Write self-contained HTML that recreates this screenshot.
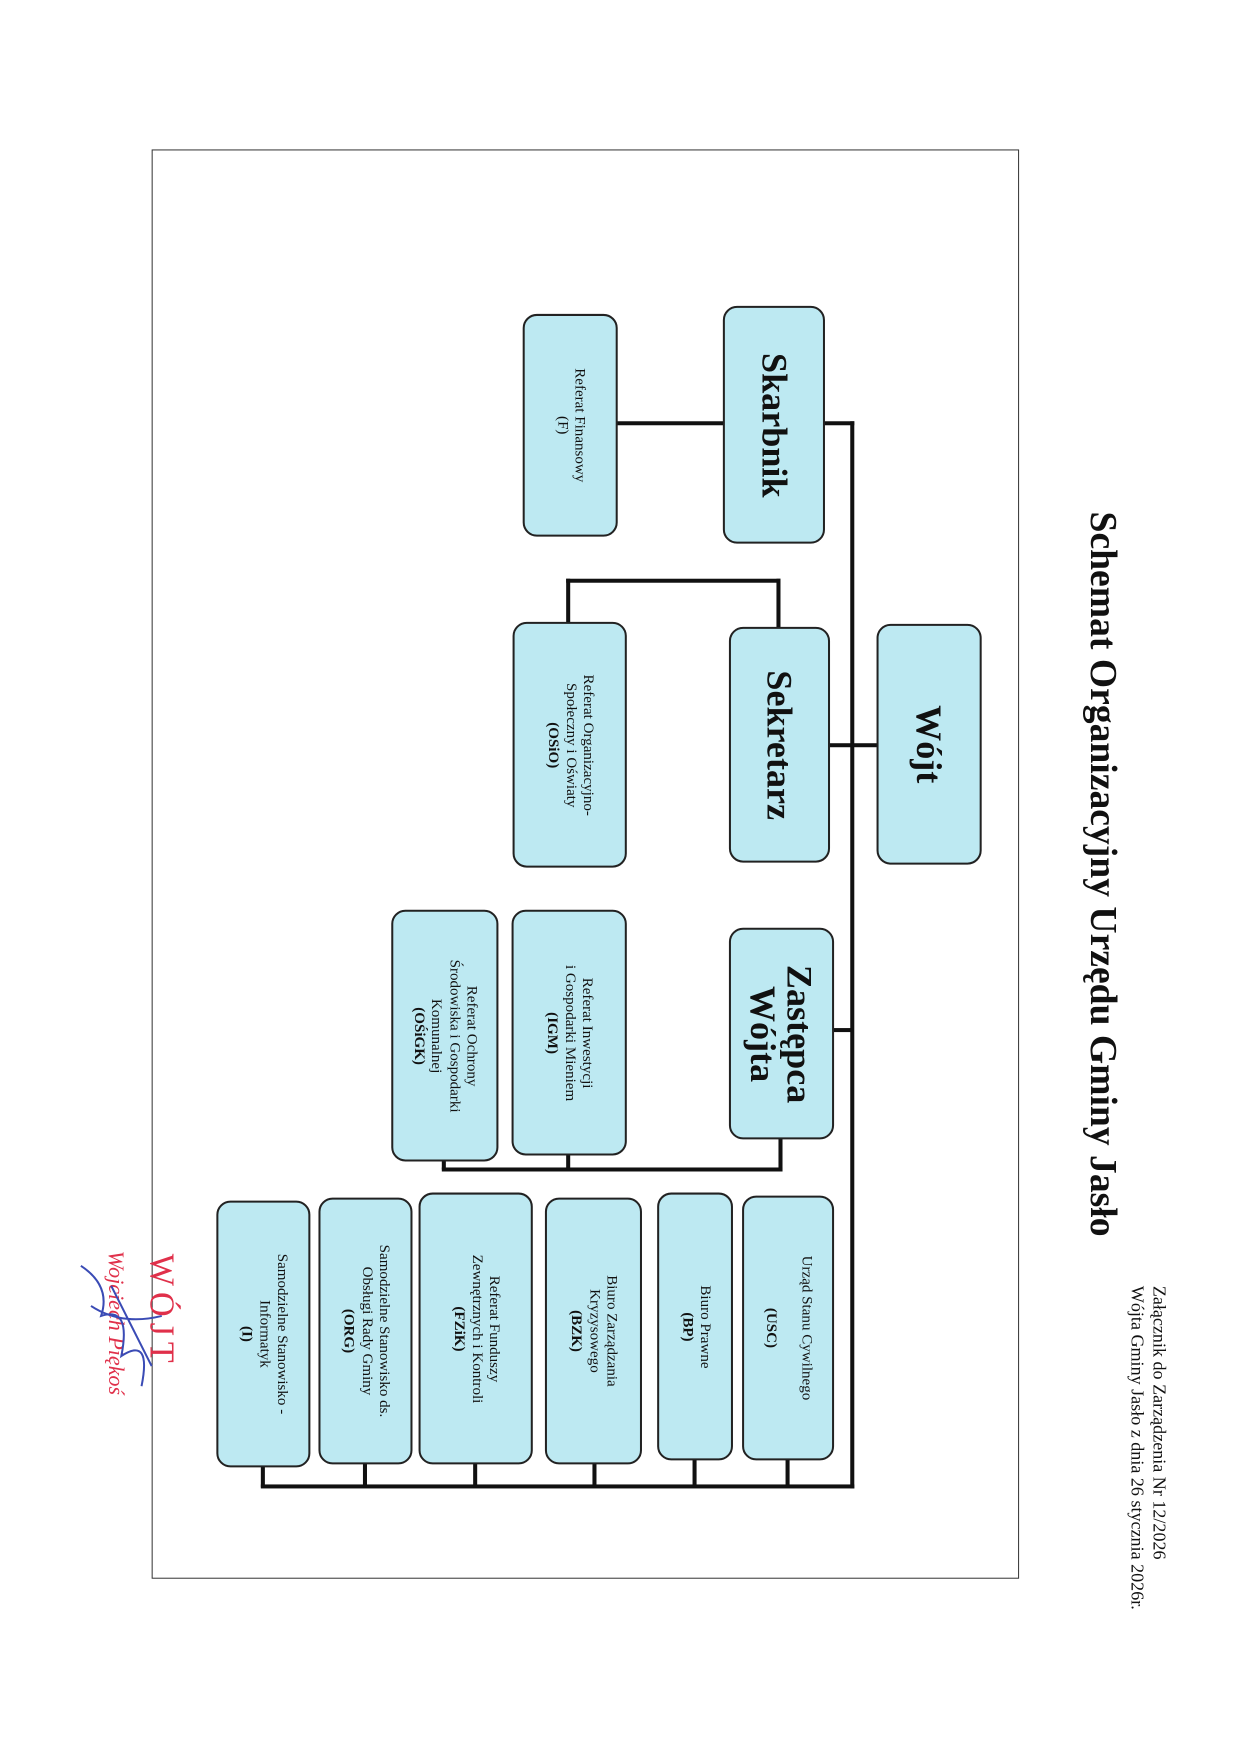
<!DOCTYPE html>
<html><head><meta charset="utf-8"><style>
html,body{margin:0;padding:0;background:#fff}
body{width:1240px;height:1753px;position:relative;overflow:hidden;font-family:"Liberation Serif",serif;color:#111}
#w{position:absolute;left:0;top:0;width:1240px;height:1753px;transform-origin:0 0;transform:translate(0,2px) scale(1.011,1.003)}
.b{position:absolute;background:#bde9f2;border:2px solid #222;border-radius:14px;box-sizing:border-box}
.t{position:absolute;left:50%;top:50%;transform:translate(-50%,-50%) rotate(90deg);text-align:center;white-space:nowrap;line-height:1.15}
.big{font-size:36px;font-weight:bold;line-height:1.0}
.sm{font-size:15px}
.l{position:absolute;background:#111}
.rt{position:absolute;transform-origin:0 0;transform:rotate(90deg);white-space:nowrap}
</style></head><body><div id="w">
<div style="position:absolute;left:150px;top:147px;width:858px;height:1425px;border:1.5px solid #333;box-sizing:border-box"></div>

<div class="rt" style="left:1112px;top:508px;font-size:37.5px;font-weight:bold">Schemat Organizacyjny Urzędu Gminy Jasło</div>
<div class="rt" style="left:1158px;top:1280px;font-size:18px;line-height:22px">Załącznik do Zarządzenia Nr 12/2026<br>Wójta Gminy Jasło z dnia 26 stycznia 2026r.</div>

<div class="l" style="left:841px;top:418px;width:4px;height:1064px"></div>
<div class="l" style="left:814px;top:418px;width:31px;height:4px"></div>
<div class="l" style="left:609px;top:418px;width:108px;height:4px"></div>
<div class="l" style="left:819px;top:739px;width:50px;height:4px"></div>
<div class="l" style="left:823px;top:1023px;width:20px;height:4px"></div>
<div class="l" style="left:768px;top:575px;width:4px;height:50px"></div>
<div class="l" style="left:560px;top:575px;width:212px;height:4px"></div>
<div class="l" style="left:560px;top:575px;width:4px;height:45px"></div>
<div class="l" style="left:770px;top:1132px;width:4px;height:34px"></div>
<div class="l" style="left:437px;top:1162px;width:337px;height:4px"></div>
<div class="l" style="left:560px;top:1148px;width:4px;height:16px"></div>
<div class="l" style="left:437px;top:1154px;width:4px;height:10px"></div>
<div class="l" style="left:258px;top:1478px;width:587px;height:4px"></div>
<div class="l" style="left:777px;top:1452px;width:4px;height:28px"></div>
<div class="l" style="left:685px;top:1452px;width:4px;height:28px"></div>
<div class="l" style="left:586px;top:1456px;width:4px;height:24px"></div>
<div class="l" style="left:468px;top:1456px;width:4px;height:24px"></div>
<div class="l" style="left:359px;top:1456px;width:4px;height:24px"></div>
<div class="l" style="left:258px;top:1459px;width:4px;height:22px"></div>

<div class="b" style="left:867px;top:620px;width:104px;height:240px"><div class="t big">Wójt</div></div>
<div class="b" style="left:715px;top:303px;width:101px;height:237px"><div class="t big">Skarbnik</div></div>
<div class="b" style="left:517px;top:311px;width:94px;height:222px"><div class="t sm">Referat Finansowy<br>(F)</div></div>
<div class="b" style="left:721px;top:623px;width:100px;height:235px"><div class="t big">Sekretarz</div></div>
<div class="b" style="left:507px;top:618px;width:113px;height:245px"><div class="t sm">Referat Organizacyjno-<br>Społeczny i Oświaty<br><b>(OSiO)</b></div></div>
<div class="b" style="left:721px;top:923px;width:104px;height:211px"><div class="t big">Zastępca<br>Wójta</div></div>
<div class="b" style="left:506px;top:905px;width:114px;height:245px"><div class="t sm">Referat Inwestycji<br>i Gospodarki Mieniem<br><b>(IGM)</b></div></div>
<div class="b" style="left:387px;top:905px;width:106px;height:251px"><div class="t sm">Referat Ochrony<br>Środowiska i Gospodarki<br>Komunalnej<br><b>(OŚiGK)</b></div></div>
<div class="b" style="left:734px;top:1190px;width:91px;height:264px"><div class="t sm">Urząd Stanu Cywilnego<br><br><b>(USC)</b></div></div>
<div class="b" style="left:650px;top:1187px;width:75px;height:267px"><div class="t sm">Biuro Prawne<br><b>(BP)</b></div></div>
<div class="b" style="left:539px;top:1192px;width:96px;height:266px"><div class="t sm">Biuro Zarządzania<br>Kryzysowego<br><b>(BZK)</b></div></div>
<div class="b" style="left:414px;top:1187px;width:113px;height:271px"><div class="t sm">Referat Funduszy<br>Zewnętrznych i Kontroli<br><b>(FZiK)</b></div></div>
<div class="b" style="left:315px;top:1192px;width:93px;height:266px"><div class="t sm">Samodzielne Stanowisko ds.<br>Obsługi Rady Gminy<br><b>(ORG)</b></div></div>
<div class="b" style="left:214px;top:1195px;width:93px;height:266px"><div class="t sm">Samodzielne Stanowisko -<br>Informatyk<br><b>(I)</b></div></div>

<div class="rt" style="left:178px;top:1248px;font-size:34px;color:#e0304a;letter-spacing:6px">WÓJT</div>
<div class="rt" style="left:128px;top:1245px;font-size:22px;font-style:italic;color:#e0304a">Wojciech Piękoś</div>
<svg style="position:absolute;left:70px;top:1240px" width="110" height="160"><path d="M10 20 Q40 40 30 70 Q60 60 50 110 Q80 90 70 140 M20 60 Q50 80 90 70 M40 40 L80 120" stroke="#3a4bb5" stroke-width="2" fill="none"/></svg>
</div></body></html>
